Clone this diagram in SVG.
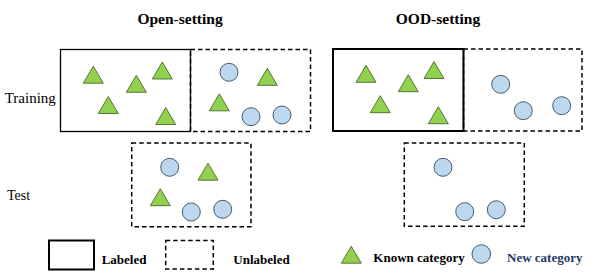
<svg xmlns="http://www.w3.org/2000/svg" width="596" height="278" viewBox="0 0 596 278">
<style>
.title{font-weight:bold;font-size:15.5px;fill:#000;text-anchor:middle}
.row{font-size:15px;fill:#000}
.leg{font-weight:bold;font-size:13px;fill:#000}
.solid{fill:none;stroke:#000;stroke-width:1.3}
.solid2{fill:none;stroke:#000;stroke-width:2}
.dash{fill:none;stroke:#000;stroke-width:1.5;stroke-dasharray:4.5 3}
.tri{fill:#92D050;stroke:#3a5a1a;stroke-width:0.8}
.cir{fill:#BDD7EE;stroke:#1f3a4d;stroke-width:0.8}
</style>
<defs>
<polygon id="t" points="0,-8.5 10,8.5 -10,8.5"/>
</defs>
<rect width="596" height="278" fill="#fff"/>

<g font-family="'Liberation Serif', serif">
<text class="title" x="180" y="24" font-family="'Liberation Serif', serif">Open-setting</text>
<text class="title" x="438" y="24" font-family="'Liberation Serif', serif">OOD-setting</text>
<text class="row" x="4.7" y="103" font-family="'Liberation Serif', serif">Training</text>
<text class="row" x="7" y="200" font-size="14" style="font-size:14px" font-family="'Liberation Serif', serif">Test</text>
</g>

<g id="open-train-labeled">
<rect class="solid" x="60.5" y="49.5" width="130" height="82"/>
<use href="#t" class="tri" x="93.3" y="74.7"/>
<use href="#t" class="tri" x="136.3" y="83.8"/>
<use href="#t" class="tri" x="162.3" y="70.5"/>
<use href="#t" class="tri" x="108.3" y="105"/>
<use href="#t" class="tri" x="165.7" y="116"/>
</g>

<g id="open-train-unlabeled">
<rect class="dash" x="190.5" y="49.5" width="120" height="82"/>
<circle class="cir" cx="229" cy="72.3" r="9"/>
<use href="#t" class="tri" x="267.3" y="76.8"/>
<use href="#t" class="tri" x="219.3" y="102.3"/>
<circle class="cir" cx="251" cy="116.7" r="9"/>
<circle class="cir" cx="282" cy="115" r="9"/>
</g>

<g id="ood-train-labeled">
<rect class="solid2" x="333" y="49" width="130.5" height="82"/>
<use href="#t" class="tri" x="366" y="73.8"/>
<use href="#t" class="tri" x="408.3" y="83.2"/>
<use href="#t" class="tri" x="434" y="70"/>
<use href="#t" class="tri" x="380.3" y="104.2"/>
<use href="#t" class="tri" x="438.3" y="115.2"/>
</g>

<g id="ood-train-unlabeled">
<rect class="dash" x="463.5" y="49" width="118.5" height="82"/>
<circle class="cir" cx="500.7" cy="84.3" r="9"/>
<circle class="cir" cx="523.3" cy="110.7" r="9"/>
<circle class="cir" cx="561.7" cy="105.7" r="9"/>
</g>

<g id="open-test">
<rect class="dash" x="131.7" y="143" width="119.3" height="83.7"/>
<circle class="cir" cx="169.7" cy="167.3" r="9"/>
<use href="#t" class="tri" x="208" y="171.7"/>
<use href="#t" class="tri" x="160.3" y="197.2"/>
<circle class="cir" cx="191.3" cy="212" r="9"/>
<circle class="cir" cx="222.7" cy="209.3" r="9"/>
</g>

<g id="ood-test">
<rect class="dash" x="404.3" y="143" width="120" height="83.3"/>
<circle class="cir" cx="443" cy="167.3" r="9"/>
<circle class="cir" cx="464.7" cy="211.7" r="9"/>
<circle class="cir" cx="496.3" cy="209.7" r="9"/>
</g>

<g id="legend-labeled">
<rect class="solid2" x="49" y="240.5" width="45" height="29"/>
<text class="leg" x="101.7" y="264" font-family="'Liberation Serif', serif">Labeled</text>
</g>
<g id="legend-unlabeled">
<rect class="dash" x="165.7" y="240.5" width="47.6" height="28.5"/>
<text class="leg" x="233.3" y="264" font-family="'Liberation Serif', serif">Unlabeled</text>
</g>
<g id="legend-known">
<use href="#t" class="tri" x="351.3" y="254.7"/>
<text class="leg" x="373.3" y="262.3" font-family="'Liberation Serif', serif">Known category</text>
</g>
<g id="legend-new">
<circle class="cir" cx="481.3" cy="254" r="9.3"/>
<text class="leg" x="507" y="262.3" font-family="'Liberation Serif', serif" style="fill:#1F3864">New category</text>
</g>
</svg>
